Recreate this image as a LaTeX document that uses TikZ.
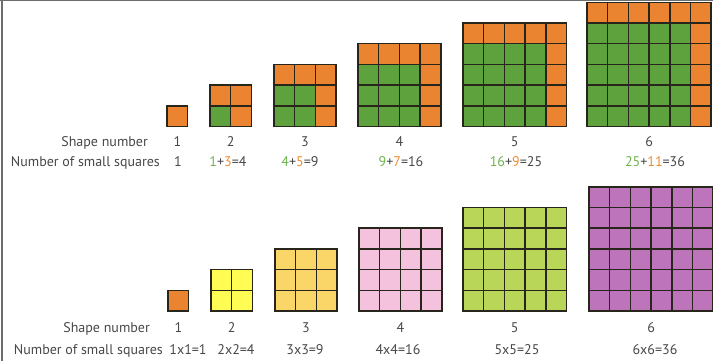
\documentclass[tikz,border=0pt]{standalone}
\usepackage{fontspec}
\setmainfont{PT Sans}
\definecolor{sqorange}{RGB}{234,132,48}
\definecolor{sqgreen}{RGB}{94,162,62}
\definecolor{sqyellow}{RGB}{255,252,84}
\definecolor{sqgold}{RGB}{250,214,104}
\definecolor{sqpink}{RGB}{245,194,222}
\definecolor{sqlime}{RGB}{186,214,88}
\definecolor{sqpurple}{RGB}{190,116,186}
\definecolor{gridcol}{RGB}{40,38,28}
\definecolor{txtgray}{RGB}{72,72,72}
\definecolor{numgreen}{RGB}{110,180,75}
\definecolor{numorange}{RGB}{240,140,50}
\tikzset{
  gridline/.style={draw=gridcol, line width=1.5pt},
  lbl/.style={text=txtgray, font=\fontsize{14}{16}\selectfont, inner sep=0pt},
}
\newcommand{\cellsz}{20.7}

\begin{document}
\begin{tikzpicture}[x=1pt,y=1pt]
  \useasboundingbox (0,0) rectangle (713,361);
  \fill[white] (0,0) rectangle (713,361);
  \draw[line width=2pt, txtgray!80] (1.5,0) -- (1.5,361);
  \draw[line width=1.5pt, txtgray!80] (0,360.5) -- (713,360.5);

  % growing squares: green old block, orange new L
  \foreach \n/\xl in {1/167,2/210,3/274,4/358,5/463,6/587} {
    \begin{scope}[shift={(\xl,234.5)}]
      \fill[sqorange] (0,0) rectangle ({\n*\cellsz},{\n*\cellsz});
      \fill[sqgreen] (0,0) rectangle ({(\n-1)*\cellsz},{(\n-1)*\cellsz});
      \foreach \k in {0,...,\n} {
        \draw[gridline] ({\k*\cellsz},0) -- ({\k*\cellsz},{\n*\cellsz});
        \draw[gridline] (0,{\k*\cellsz}) -- ({\n*\cellsz},{\k*\cellsz});
      }
      \draw[gridline] (0,0) rectangle ({\n*\cellsz},{\n*\cellsz});
    \end{scope}
    \node[lbl, anchor=base] (topnum\n) at ({\xl+\n*\cellsz/2},214) {\n};
  }
  \node[lbl, anchor=base east] (topshape) at (148,214) {Shape number};
  \node[lbl, anchor=base east] (topcount) at (160,194) {Number of small squares};
  \node[lbl, anchor=base] (topsum1) at (178,194) {1};
  \node[lbl, anchor=base] (topsum2) at (228,194) {{\color{numgreen}1}+{\color{numorange}3}=4};
  \node[lbl, anchor=base] (topsum3) at (300,194) {{\color{numgreen}4}+{\color{numorange}5}=9};
  \node[lbl, anchor=base] (topsum4) at (401,194) {{\color{numgreen}9}+{\color{numorange}7}=16};
  \node[lbl, anchor=base] (topsum5) at (516,194) {{\color{numgreen}16}+{\color{numorange}9}=25};
  \node[lbl, anchor=base] (topsum6) at (655,194) {{\color{numgreen}25}+{\color{numorange}11}=36};

  % n by n squares
  \foreach \n/\xl/\cfill in {1/168/sqorange,2/211/sqyellow,3/275/sqgold,4/359/sqpink,5/463/sqlime,6/589/sqpurple} {
    \begin{scope}[shift={(\xl,50)}]
      \fill[\cfill] (0,0) rectangle ({\n*\cellsz},{\n*\cellsz});
      \foreach \k in {0,...,\n} {
        \draw[gridline] ({\k*\cellsz},0) -- ({\k*\cellsz},{\n*\cellsz});
        \draw[gridline] (0,{\k*\cellsz}) -- ({\n*\cellsz},{\k*\cellsz});
      }
      \draw[gridline] (0,0) rectangle ({\n*\cellsz},{\n*\cellsz});
    \end{scope}
    \node[lbl, anchor=base] (botnum\n) at ({\xl+\n*\cellsz/2},28) {\n};
  }
  \node[lbl, anchor=base east] (botshape) at (150,28) {Shape number};
  \node[lbl, anchor=base east] (botcount) at (163,6) {Number of small squares};
  \node[lbl, anchor=base] (botprod1) at (188,6) {1x1=1};
  \node[lbl, anchor=base] (botprod2) at (236,6) {2x2=4};
  \node[lbl, anchor=base] (botprod3) at (305,6) {3x3=9};
  \node[lbl, anchor=base] (botprod4) at (398,6) {4x4=16};
  \node[lbl, anchor=base] (botprod5) at (517,6) {5x5=25};
  \node[lbl, anchor=base] (botprod6) at (655,6) {6x6=36};
\end{tikzpicture}
\end{document}
